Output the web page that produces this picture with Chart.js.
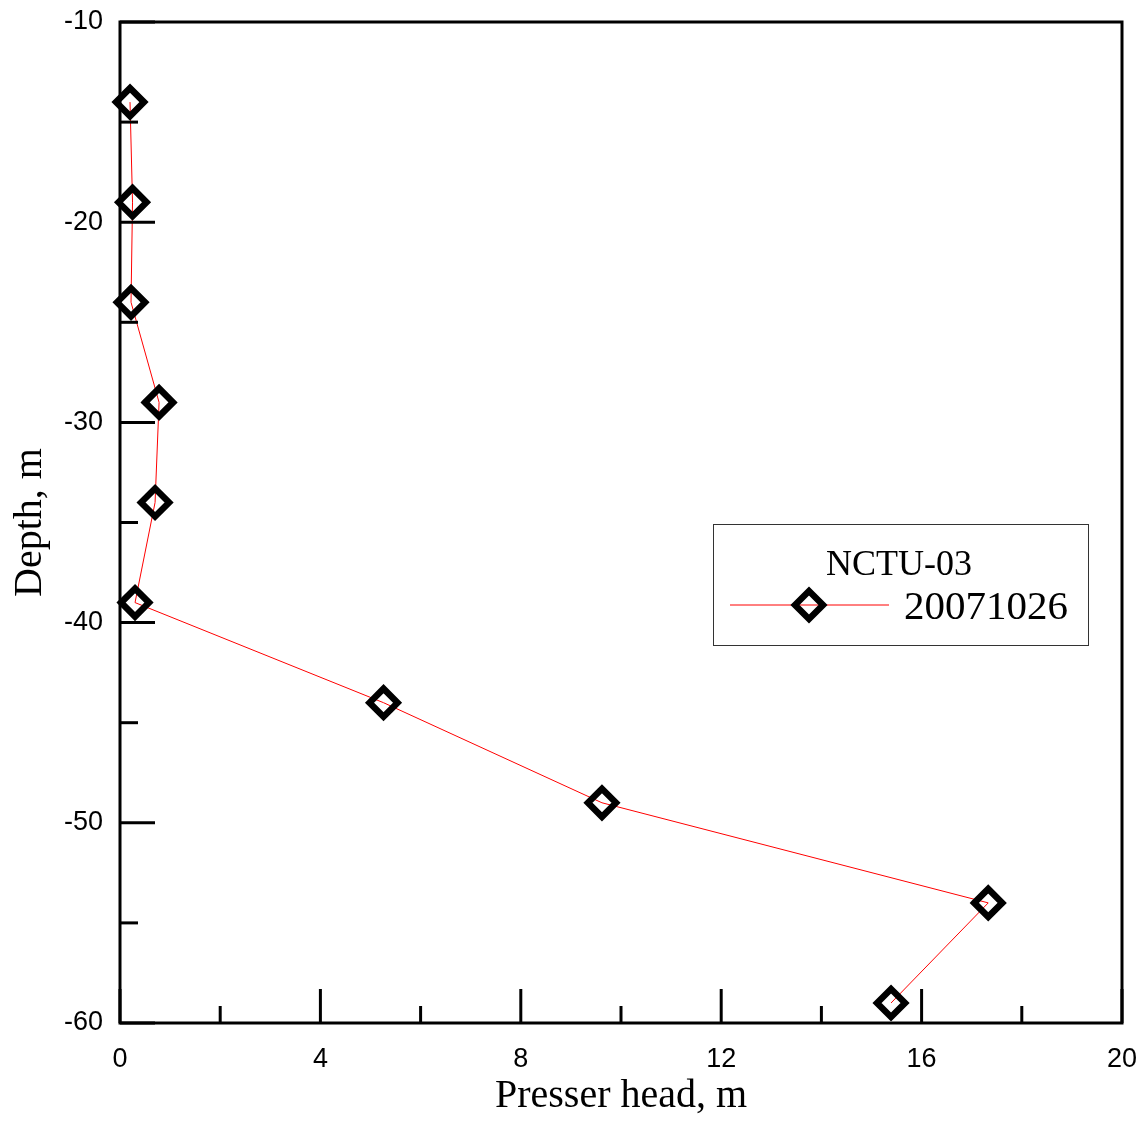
<!DOCTYPE html>
<html>
<head>
<meta charset="utf-8">
<script src="https://cdn.jsdelivr.net/npm/chart.js@4/dist/chart.umd.min.js"></script>
<style>
html,body{margin:0;padding:0;background:#fff;}
#wrap{position:relative;width:1148px;height:1122px;}
</style>
</head>
<body>
<div id="wrap"><canvas id="c" width="1148" height="1122"></canvas></div>
<script>
const pressureHead = [0.2, 0.25, 0.22, 0.78, 0.7, 0.3, 5.26, 9.62, 17.33, 15.39];
const depth = [-14, -19, -24, -29, -34, -39, -44, -49, -54, -59];
const seriesLabel = "20071026";
const legendTitle = "NCTU-03";
const xMajorTicks = [0, 4, 8, 12, 16, 20];
const xMinorTicks = [2, 6, 10, 14, 18];
const yMajorTicks = [-10, -20, -30, -40, -50, -60];
const yMinorTicks = [-15, -25, -35, -45, -55];

const serif = "'Liberation Serif','Times New Roman',serif";
const sans = "'Liberation Sans',Arial,sans-serif";

const points = pressureHead.map((v, i) => ({x: v, y: depth[i]}));

const frame = {
  id: 'frame',
  afterDraw(chart) {
    const ctx = chart.ctx, a = chart.chartArea;
    const xs = chart.scales.x, ys = chart.scales.y;
    ctx.save();
    ctx.strokeStyle = '#000';
    ctx.lineWidth = 3;
    ctx.strokeRect(a.left, a.top, a.right - a.left, a.bottom - a.top);
    ctx.lineCap = 'butt';
    xMajorTicks.forEach(v => {
      const px = xs.getPixelForValue(v);
      ctx.beginPath(); ctx.moveTo(px, a.bottom); ctx.lineTo(px, a.bottom - 34); ctx.stroke();
    });
    xMinorTicks.forEach(v => {
      const px = xs.getPixelForValue(v);
      ctx.beginPath(); ctx.moveTo(px, a.bottom); ctx.lineTo(px, a.bottom - 17); ctx.stroke();
    });
    yMajorTicks.forEach(v => {
      const py = ys.getPixelForValue(v);
      ctx.beginPath(); ctx.moveTo(a.left, py); ctx.lineTo(a.left + 35, py); ctx.stroke();
    });
    yMinorTicks.forEach(v => {
      const py = ys.getPixelForValue(v);
      ctx.beginPath(); ctx.moveTo(a.left, py); ctx.lineTo(a.left + 18, py); ctx.stroke();
    });
    // legend
    ctx.lineWidth = 1;
    ctx.strokeStyle = '#333';
    ctx.strokeRect(713.5, 524.5, 375, 121);
    ctx.fillStyle = '#000';
    ctx.font = '36px ' + serif;
    ctx.textAlign = 'center';
    ctx.textBaseline = 'alphabetic';
    ctx.fillText(legendTitle, 899, 575);
    ctx.strokeStyle = '#ff0000';
    ctx.lineWidth = 1;
    ctx.beginPath(); ctx.moveTo(730, 605); ctx.lineTo(889, 605); ctx.stroke();
    ctx.strokeStyle = '#000';
    ctx.lineWidth = 6.5;
    ctx.lineJoin = 'miter';
    ctx.beginPath();
    ctx.moveTo(809 - 14, 605); ctx.lineTo(809, 605 - 14);
    ctx.lineTo(809 + 14, 605); ctx.lineTo(809, 605 + 14);
    ctx.closePath(); ctx.stroke();
    ctx.font = '41px ' + serif;
    ctx.textAlign = 'left';
    ctx.fillText(seriesLabel, 904, 619);
    ctx.restore();
  }
};

new Chart(document.getElementById('c'), {
  type: 'scatter',
  data: {
    datasets: [{
      label: seriesLabel,
      data: points,
      showLine: true,
      borderColor: '#ff0000',
      borderWidth: 1,
      pointStyle: 'rectRot',
      pointRadius: 14,
      pointHoverRadius: 14,
      pointBorderWidth: 6.5,
      pointBorderColor: '#000',
      pointBackgroundColor: 'rgba(0,0,0,0)',
      clip: false
    }]
  },
  options: {
    responsive: false,
    animation: false,
    devicePixelRatio: 1,
    layout: {padding: {left: 0, top: 22, right: 26, bottom: 0}},
    plugins: {legend: {display: false}, tooltip: {enabled: false}},
    scales: {
      x: {
        type: 'linear', min: 0, max: 20,
        afterFit(s) { s.height = 99; s.paddingLeft = 0; s.paddingRight = 0; },
        grid: {display: false, drawTicks: false},
        border: {display: false},
        ticks: {stepSize: 4, padding: 20, color: '#000', font: {family: sans, size: 27}, maxRotation: 0},
        title: {display: true, text: 'Presser head, m', color: '#000', font: {family: serif, size: 40}, padding: {top: 0, bottom: 2}}
      },
      y: {
        type: 'linear', min: -60, max: -10,
        afterFit(s) { s.width = 120; s.paddingTop = 0; s.paddingBottom = 0; },
        grid: {display: false, drawTicks: false},
        border: {display: false},
        ticks: {stepSize: 10, padding: 17, color: '#000', font: {family: sans, size: 27}},
        title: {display: true, text: 'Depth, m', color: '#000', font: {family: serif, size: 40}, padding: {top: 6, bottom: 0}}
      }
    }
  },
  plugins: [frame]
});
</script>
</body>
</html>
